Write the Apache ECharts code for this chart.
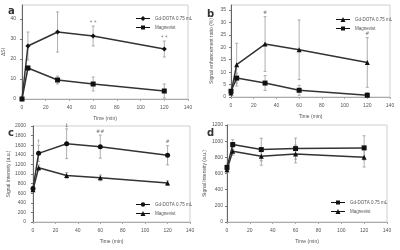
<!DOCTYPE html>
<html><head><meta charset="utf-8">
<script src="https://cdn.jsdelivr.net/npm/echarts@6/dist/echarts.min.js"></script>
<style>html,body{margin:0;padding:0;background:#fff}#c{width:400px;height:250px}</style>
</head><body><div id="c"></div>
<script>
const times = [0, 5, 30, 60, 120];
const seriesNames = ['Gd-DOTA 0.75 mL', 'Magnevist'];
const xAxisName = 'Time (min)';

const aUpper = [0, 26.5, 33.5, 31.5, 25];
const aUpperErr = [0, 7, 10, 5, 4];
const aLower = [0, 15.5, 9.5, 7.5, 4];
const aLowerErr = [0, 1, 2, 3.5, 3.5];
const aMarks = ['', '', '', '* *', '* *'];

const bUpper = [1.6, 13, 21.3, 19, 13.9];
const bUpperErr = [0.5, 8.6, 11, 12, 10];
const bLower = [2.3, 7.6, 5.6, 2.7, 0.7];
const bLowerErr = [0.5, 2, 3, 2, 1];
const bMarks = ['', '', '#', '', '#'];

const cUpper = [700, 1430, 1630, 1570, 1390];
const cUpperErr = [40, 170, 310, 240, 200];
const cLower = [670, 1130, 970, 920, 810];
const cLowerErr = [30, 60, 60, 60, 50];
const cMarks = ['', '†', '‡', '##', '#'];

const dUpper = [675, 958, 896, 908, 917];
const dUpperErr = [40, 60, 140, 130, 150];
const dLower = [646, 875, 812, 842, 800];
const dLowerErr = [40, 50, 110, 110, 120];
const dMarks = ['', '', '', '', ''];

const ICONS = {
  diamond: 'path://M0,2.6L14,2.6L14,3.4L0,3.4Z M7,0.5L9.5,3L7,5.5L4.5,3Z',
  rect: 'path://M0,2.6L14,2.6L14,3.4L0,3.4Z M5,1L9,1L9,5L5,5Z',
  triangle: 'path://M0,2.6L14,2.6L14,3.4L0,3.4Z M7,0.5L9.5,5.5L4.5,5.5Z',
  circle: 'path://M0,2.6L14,2.6L14,3.4L0,3.4Z M9.2,3A2.2,2.2,0,1,1,4.8,3A2.2,2.2,0,1,1,9.2,3Z'
};

const panels = [
  {grid:{left:22, top:5, width:166, height:94}, yMax:47, yInt:10, yName:'ΔSI', yGap:13, yMargin:6,
   up:aUpper, upErr:aUpperErr, lo:aLower, loErr:aLowerErr, syms:['diamond','rect'], marks:aMarks,
   legend:{left:131, top:11}},
  {grid:{left:231, top:5, width:159, height:92}, yMax:37, yInt:5, yName:'Signal enhancement ratio (%)', yGap:17, yMargin:5,
   up:bUpper, upErr:bUpperErr, lo:bLower, loErr:bLowerErr, syms:['triangle','rect'], marks:bMarks,
   legend:{left:331, top:12}},
  {grid:{left:33, top:126, width:157, height:96}, yMax:2000, yInt:200, yName:'Signal Intensity (a.u.)', yGap:22, yMargin:7,
   up:cUpper, upErr:cUpperErr, lo:cLower, loErr:cLowerErr, syms:['circle','triangle'], marks:cMarks,
   legend:{left:131, top:197}},
  {grid:{left:227, top:125, width:160, height:97}, yMax:1200, yInt:200, yName:'Signal Intensity (a.u.)', yGap:20, yMargin:4,
   up:dUpper, upErr:dUpperErr, lo:dLower, loErr:dLowerErr, syms:['rect','triangle'], marks:dMarks,
   legend:{left:326, top:195}}
];

const option = {
  animation:false,
  backgroundColor:'#fff',
  title: [
    {text:'a', left:3, top:1},
    {text:'b', left:202, top:4},
    {text:'c', left:3, top:123},
    {text:'d', left:202, top:123}
  ].map(t => Object.assign(t, {textStyle:{fontSize:10, fontWeight:'bold', color:'#333', fontFamily:'DejaVu Sans'}})),
  grid: [], xAxis: [], yAxis: [], legend: [], series: []
};

const baseLbl = {fontSize:5, color:'#555', fontFamily:'Liberation Sans', formatter: v => String(v)};

panels.forEach((p, i) => {
  option.grid.push(Object.assign({show:true, borderColor:'#cfcfcf', borderWidth:1}, p.grid));
  option.xAxis.push({gridIndex:i, type:'value', min:0, max:140, interval:20,
    name:xAxisName, nameLocation:'middle', nameGap:17,
    nameTextStyle:{fontSize:5, color:'#555', fontFamily:'Liberation Sans'},
    axisLine:{lineStyle:{color:'#aaa', width:1}}, axisTick:{show:true, length:2, lineStyle:{color:'#aaa'}},
    splitLine:{show:false}, axisLabel:Object.assign({margin:6}, baseLbl)});
  option.yAxis.push({gridIndex:i, type:'value', min:0, max:p.yMax, interval:p.yInt,
    name:p.yName, nameLocation:'middle', nameGap:p.yGap,
    nameTextStyle:{fontSize:5, color:'#555', fontFamily:'Liberation Sans'},
    axisLine:{show:true, lineStyle:{color:'#666', width:1}}, axisTick:{show:true, length:2, lineStyle:{color:'#777'}},
    splitLine:{show:false}, axisLabel:Object.assign({showMaxLabel: (p.yMax % p.yInt === 0), margin:p.yMargin}, baseLbl)});
  option.legend.push({left:p.legend.left, top:p.legend.top, orient:'vertical', itemWidth:14, itemHeight:6, itemGap:4,
    textStyle:{fontSize:4.5, color:'#555', fontFamily:'Liberation Sans'}, selectedMode:false,
    data:[{name:seriesNames[0], icon:ICONS[p.syms[0]]}, {name:seriesNames[1], icon:ICONS[p.syms[1]]}]});

  const errData = times.map((t,k)=>[t, p.up[k], p.upErr[k]]).concat(times.map((t,k)=>[t, p.lo[k], p.loErr[k]]));
  option.series.push({type:'custom', xAxisIndex:i, yAxisIndex:i, z:1, silent:true,
    renderItem:(params, api) => {
      const x = api.value(0), y = api.value(1), e = api.value(2);
      if (!e) return null;
      const a = api.coord([x, y + e]), b = api.coord([x, Math.max(0, y - e)]);
      const w = 1.5;
      const st = {stroke:'#9a9a9a', lineWidth:0.8};
      return {type:'group', children:[
        {type:'line', shape:{x1:a[0], y1:a[1], x2:b[0], y2:b[1]}, style:st},
        {type:'line', shape:{x1:a[0]-w, y1:a[1], x2:a[0]+w, y2:a[1]}, style:st},
        {type:'line', shape:{x1:b[0]-w, y1:b[1], x2:b[0]+w, y2:b[1]}, style:st}
      ]};
    },
    data: errData});
  option.series.push({type:'line', name:seriesNames[0], xAxisIndex:i, yAxisIndex:i, z:3,
    data: times.map((t,k)=>[t, p.up[k]]), symbol:p.syms[0], symbolSize:5,
    lineStyle:{color:'#333', width:1.5}, itemStyle:{color:'#111'}});
  option.series.push({type:'line', name:seriesNames[1], xAxisIndex:i, yAxisIndex:i, z:3,
    data: times.map((t,k)=>[t, p.lo[k]]), symbol:p.syms[1], symbolSize:5,
    lineStyle:{color:'#333', width:1.5}, itemStyle:{color:'#111'}});
  option.series.push({type:'scatter', xAxisIndex:i, yAxisIndex:i, z:4, silent:true, symbolSize:0,
    data: times.map((t,k)=>({value:[t, p.up[k] + p.upErr[k]], label:{show: !!p.marks[k], formatter: p.marks[k]}})),
    label:{position:'top', distance:1, fontSize:5, color:'#444', fontFamily:'DejaVu Sans'}});
});

const chart = echarts.init(document.getElementById('c'), null, {renderer:'canvas'});
chart.setOption(option);
</script></body></html>
